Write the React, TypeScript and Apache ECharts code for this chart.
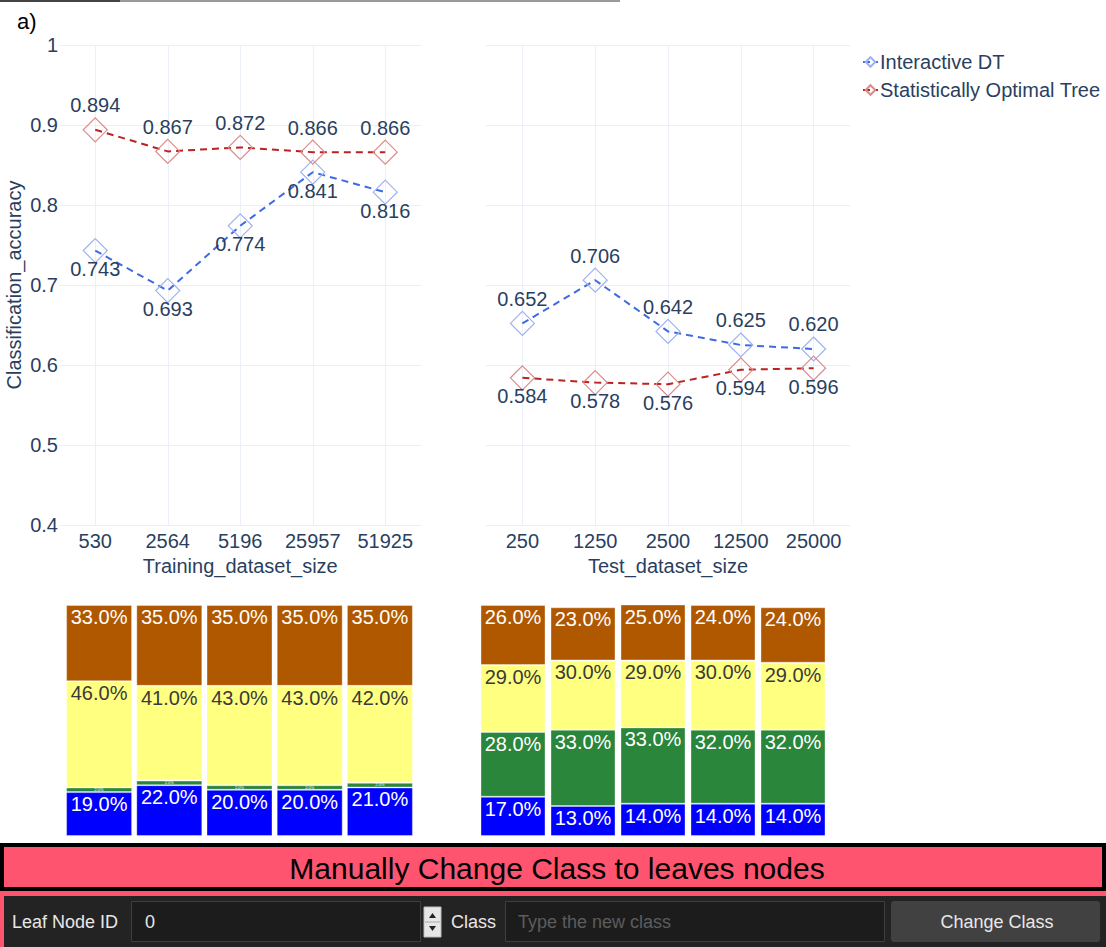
import React, { useEffect, useRef } from "react";
import * as echarts from "echarts";

const trainSizes = ["530", "2564", "5196", "25957", "51925"];
const testSizes = ["250", "1250", "2500", "12500", "25000"];
const trainInteractive = [0.743, 0.693, 0.774, 0.841, 0.816];
const trainOptimal = [0.894, 0.867, 0.872, 0.866, 0.866];
const testInteractive = [0.652, 0.706, 0.642, 0.625, 0.62];
const testOptimal = [0.584, 0.578, 0.576, 0.594, 0.596];

const trainBlue = [19, 22, 20, 20, 21];
const trainGreen = [2, 2, 2, 2, 2];
const trainYellow = [46, 41, 43, 43, 42];
const trainOrange = [33, 35, 35, 35, 35];
const testBlue = [17, 13, 14, 14, 14];
const testGreen = [28, 33, 33, 32, 32];
const testYellow = [29, 30, 29, 30, 29];
const testOrange = [26, 23, 25, 24, 24];

const FONT = '"Liberation Sans", Arial, sans-serif';
const TXT = "#2a3f5f";
const GRID = "#ebf0f8";
const FS = 20;

export default function App() {
  const ref = useRef<HTMLDivElement>(null);
  useEffect(() => {
    if (!ref.current) return;
    const chart = echarts.init(ref.current, null, { renderer: "svg" });

    const lineSeries = (
      name: string,
      data: number[],
      idx: number,
      lineColor: string,
      markerColor: string,
      pos: "top" | "bottom",
      cats: string[],
      withGrid: boolean
    ) => ({
      type: "line",
      name,
      xAxisIndex: idx,
      yAxisIndex: idx,
      data,
      symbol: "diamond",
      symbolSize: 24,
      z: 3,
      lineStyle: { color: lineColor, width: 2, type: [7, 5] },
      itemStyle: { color: "rgba(255,255,255,0)", borderColor: markerColor, borderWidth: 1.2 },
      label: {
        show: true,
        position: pos,
        distance: pos === "top" ? 2 : -4,
        fontSize: FS,
        fontFamily: FONT,
        color: TXT,
        formatter: (p: any) => Number(p.value).toFixed(3),
      },
      markLine: withGrid
        ? {
            silent: true,
            symbol: "none",
            z: 0,
            label: { show: false },
            lineStyle: { color: GRID, type: "solid", width: 1 },
            data: cats.map((c) => ({ xAxis: c })),
          }
        : undefined,
      emphasis: { disabled: true },
    });

    const barSeries = (
      name: string,
      data: number[],
      idx: number,
      color: string,
      textColor: string,
      stack: string,
      small = false
    ) => ({
      type: "bar",
      name: name + stack,
      stack,
      xAxisIndex: idx,
      yAxisIndex: idx,
      data,
      barWidth: idx === 2 ? 66 : 65,
      itemStyle: { color, borderColor: "rgba(255,255,255,0.35)", borderWidth: 1 },
      label: {
        show: true,
        position: "insideTop",
        distance: small ? 0 : 2,
        fontSize: small ? 4 : FS,
        fontFamily: FONT,
        color: textColor,
        formatter: (p: any) => Number(p.value).toFixed(1) + "%",
      },
      emphasis: { disabled: true },
    });

    const catAxis = (idx: number, cats: string[], name: string, show: boolean) => ({
      type: "category",
      gridIndex: idx,
      data: cats,
      show,
      name,
      nameLocation: "middle",
      nameGap: 30,
      nameTextStyle: { fontSize: FS, color: TXT, fontFamily: FONT },
      axisLine: { show: false },
      axisTick: { show: false },
      splitLine: { show: false },
      axisLabel: { fontSize: FS, color: TXT, fontFamily: FONT, margin: 6 },
    });

    const valAxis = (idx: number, showLabels: boolean, name: string) => ({
      type: "value",
      gridIndex: idx,
      min: 0.4,
      max: 1,
      interval: 0.1,
      name,
      nameLocation: "middle",
      nameGap: 35,
      nameTextStyle: { fontSize: FS, color: TXT, fontFamily: FONT },
      axisLine: { show: false },
      axisTick: { show: false },
      splitLine: { show: true, lineStyle: { color: GRID, width: 1 } },
      axisLabel: {
        show: showLabels,
        fontSize: FS,
        color: TXT,
        fontFamily: FONT,
        margin: 1,
      },
    });

    const barY = (idx: number) => ({
      type: "value",
      gridIndex: idx,
      min: 0,
      max: 100,
      show: false,
    });

    const option: any = {
      animation: false,
      backgroundColor: "#fff",
      textStyle: { fontFamily: FONT },
      legend: {
        data: ["Interactive DT", "Statistically Optimal Tree"],
        orient: "vertical",
        left: 857,
        top: 47,
        itemWidth: 15,
        itemHeight: 12,
        itemGap: 8,
        textStyle: { fontSize: FS, color: TXT, fontFamily: FONT, padding: [0, 0, 0, -3] },
        selectedMode: false,
      },
      grid: [
        { left: 59, top: 45, width: 362.5, height: 480 },
        { left: 486, top: 45, width: 364, height: 480 },
        { left: 64, top: 605, width: 351, height: 231 },
        { left: 478, top: 605, width: 350, height: 231 },
      ],
      xAxis: [
        catAxis(0, trainSizes, "Training_dataset_size", true),
        catAxis(1, testSizes, "Test_dataset_size", true),
        catAxis(2, trainSizes, "", false),
        catAxis(3, testSizes, "", false),
      ],
      yAxis: [
        valAxis(0, true, "Classification_accuracy"),
        valAxis(1, false, ""),
        barY(2),
        barY(3),
      ],
      series: [
        lineSeries("Interactive DT", trainInteractive, 0, "#3f6ae3", "#9db2f2", "bottom", trainSizes, true),
        lineSeries("Statistically Optimal Tree", trainOptimal, 0, "#bb2222", "#dc8a8a", "top", trainSizes, false),
        lineSeries("Interactive DT", testInteractive, 1, "#3f6ae3", "#9db2f2", "top", testSizes, true),
        lineSeries("Statistically Optimal Tree", testOptimal, 1, "#bb2222", "#dc8a8a", "bottom", testSizes, false),
        barSeries("blue", trainBlue, 2, "#0000ff", "#ffffff", "train"),
        barSeries("green", trainGreen, 2, "#2a863a", "#ffffff", "train", true),
        barSeries("yellow", trainYellow, 2, "#ffff80", "#3a3a3a", "train"),
        barSeries("orange", trainOrange, 2, "#b05800", "#ffffff", "train"),
        barSeries("blue", testBlue, 3, "#0000ff", "#ffffff", "test"),
        barSeries("green", testGreen, 3, "#2a863a", "#ffffff", "test"),
        barSeries("yellow", testYellow, 3, "#ffff80", "#3a3a3a", "test"),
        barSeries("orange", testOrange, 3, "#b05800", "#ffffff", "test"),
      ],
      graphic: [
        { type: "line", shape: { x1: 0, y1: 1, x2: 120, y2: 1 }, style: { stroke: "#444", lineWidth: 2 } },
        { type: "line", shape: { x1: 120, y1: 1, x2: 620, y2: 1 }, style: { stroke: "#9a9a9a", lineWidth: 2 } },
        {
          type: "text",
          x: 17,
          y: 21,
          style: { text: "a)", fontSize: 22, fontFamily: FONT, fill: "#000", verticalAlign: "middle" },
        },
        {
          type: "rect",
          shape: { x: 2, y: 845, width: 1102, height: 44 },
          style: { fill: "#ff5470", stroke: "#000", lineWidth: 4 },
        },
        {
          type: "text",
          x: 557,
          y: 868,
          style: {
            text: "Manually Change Class to leaves nodes",
            fontSize: 30,
            fontFamily: FONT,
            fill: "#000",
            align: "center",
            verticalAlign: "middle",
          },
        },
        { type: "rect", shape: { x: 0, y: 891, width: 1106, height: 56 }, style: { fill: "#ff5470" } },
        { type: "rect", shape: { x: 4, y: 896, width: 1102, height: 51 }, style: { fill: "#232323" } },
        {
          type: "text",
          x: 12,
          y: 922,
          style: { text: "Leaf Node ID", fontSize: 18, fontFamily: FONT, fill: "#e8e8e8", verticalAlign: "middle" },
        },
        {
          type: "rect",
          shape: { x: 131.5, y: 901.5, width: 289, height: 40 },
          style: { fill: "#1c1c1c", stroke: "#3e3e3e", lineWidth: 1 },
        },
        {
          type: "text",
          x: 145,
          y: 922,
          style: { text: "0", fontSize: 18, fontFamily: FONT, fill: "#e8e8e8", verticalAlign: "middle" },
        },
        {
          type: "rect",
          shape: { x: 424, y: 907, width: 17, height: 30 },
          style: { fill: "#e6e6e6", stroke: "#bdbdbd", lineWidth: 1 },
        },
        { type: "polygon", shape: { points: [[429, 918], [436, 918], [432.5, 913]] }, style: { fill: "#222" } },
        { type: "polygon", shape: { points: [[429, 926], [436, 926], [432.5, 931]] }, style: { fill: "#222" } },
        { type: "line", shape: { x1: 425, y1: 922, x2: 440, y2: 922 }, style: { stroke: "#aaa", lineWidth: 1 } },
        {
          type: "text",
          x: 451,
          y: 922,
          style: { text: "Class", fontSize: 18, fontFamily: FONT, fill: "#e8e8e8", verticalAlign: "middle" },
        },
        {
          type: "rect",
          shape: { x: 505.5, y: 901.5, width: 379, height: 40 },
          style: { fill: "#1c1c1c", stroke: "#3e3e3e", lineWidth: 1 },
        },
        {
          type: "text",
          x: 518,
          y: 922,
          style: { text: "Type the new class", fontSize: 18, fontFamily: FONT, fill: "#5c5c5c", verticalAlign: "middle" },
        },
        {
          type: "rect",
          shape: { x: 891, y: 901, width: 209, height: 41, r: 3 },
          style: { fill: "#414141" },
        },
        {
          type: "text",
          x: 997,
          y: 922,
          style: {
            text: "Change Class",
            fontSize: 18,
            fontFamily: FONT,
            fill: "#e8e8e8",
            align: "center",
            verticalAlign: "middle",
          },
        },
      ],
    };

    chart.setOption(option);
    return () => chart.dispose();
  }, []);

  return (
    <div
      ref={ref}
      style={{ position: "absolute", left: 0, top: 0, width: 1106, height: 947, background: "#fff" }}
    />
  );
}
